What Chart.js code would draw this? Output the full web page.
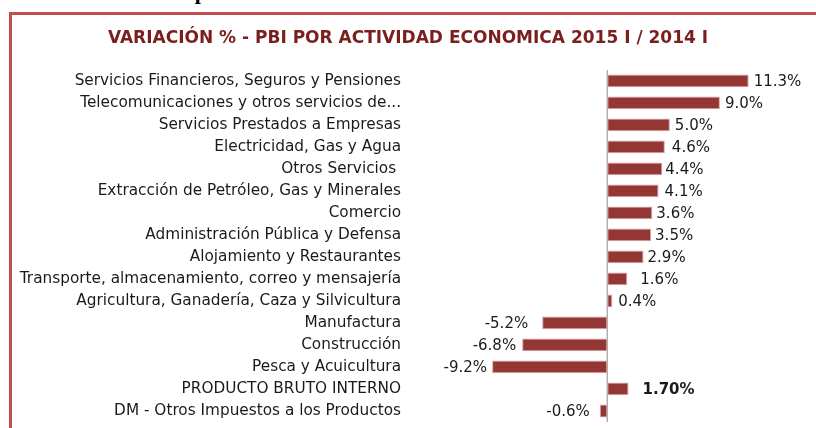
<!DOCTYPE html>
<html>
<head>
<meta charset="utf-8">
<script src="https://cdn.jsdelivr.net/npm/chart.js@4"></script>
<style>
  html, body { margin: 0; padding: 0; background: #fff; overflow: hidden; }
  body { width: 816px; height: 428px; position: relative; }
  .heading {
    position: absolute; left: 12px; top: -21px; margin: 0;
    font: bold 22px "Liberation Serif", serif; color: #000; white-space: nowrap;
    letter-spacing: 0.5px;
  }
  .frame {
    position: absolute; left: 9px; top: 12px; width: 900px; height: 500px;
    border-top: 3px solid #c0504d; border-left: 3px solid #c0504d;
  }
  #wrap { position: absolute; left: 0; top: 0; width: 816px; height: 428px; }
</style>
</head>
<body>
<p class="heading">Gráfico N° 1: PBI por actividad económica</p>
<div class="frame"></div>
<div id="wrap"><canvas id="pbiChart"></canvas></div>
<script>
// categorias (de arriba hacia abajo)
const sectors = [
  "Servicios Financieros, Seguros y Pensiones",
  "Telecomunicaciones y otros servicios de...",
  "Servicios Prestados a Empresas",
  "Electricidad, Gas y Agua",
  "Otros Servicios ",
  "Extracción de Petróleo, Gas y Minerales",
  "Comercio",
  "Administración Pública y Defensa",
  "Alojamiento y Restaurantes",
  "Transporte, almacenamiento, correo y mensajería",
  "Agricultura, Ganadería, Caza y Silvicultura",
  "Manufactura",
  "Construcción",
  "Pesca y Acuicultura",
  "PRODUCTO BRUTO INTERNO",
  "DM - Otros Impuestos a los Productos"
];
const variation = [11.3, 9.0, 5.0, 4.6, 4.4, 4.1, 3.6, 3.5, 2.9, 1.6, 0.4, -5.2, -6.8, -9.2, 1.70, -0.6];
const valueLabels = ["11.3%", "9.0%", "5.0%", "4.6%", "4.4%", "4.1%", "3.6%", "3.5%", "2.9%",
                     "1.6%", "0.4%", "-5.2%", "-6.8%", "-9.2%", "1.70%", "-0.6%"];
// separacion de cada etiqueta respecto a la barra (px), como en el original
const labelGap = [5, 5, 5, 7, 3, 6, 4, 4, 4, 13, 6, 14, 6, 5, 14, 10];
const totalIndex = 14;

const FONT = '"DejaVu Sans", "Open Sans", sans-serif';

// linea del cero y etiquetas de valor junto a cada barra
const valueLabelPlugin = {
  id: 'valueLabels',
  beforeDatasetsDraw(chart) {
    const { ctx, chartArea, scales } = chart;
    const x0 = scales.x.getPixelForValue(0);
    ctx.save();
    ctx.strokeStyle = '#a6a6a6';
    ctx.lineWidth = 1.3;
    ctx.beginPath();
    ctx.moveTo(x0, chartArea.top);
    ctx.lineTo(x0, chartArea.bottom);
    ctx.stroke();
    ctx.restore();
  },
  afterDatasetsDraw(chart) {
    const { ctx } = chart;
    const meta = chart.getDatasetMeta(0);
    ctx.save();
    ctx.fillStyle = '#1a1a1a';
    ctx.textBaseline = 'middle';
    meta.data.forEach((bar, i) => {
      const v = variation[i];
      ctx.font = (i === totalIndex ? 'bold ' : '') + '15px ' + FONT;
      if (v >= 0) {
        ctx.textAlign = 'left';
        ctx.fillText(valueLabels[i], bar.x + labelGap[i], bar.y + 1);
      } else {
        ctx.textAlign = 'right';
        ctx.fillText(valueLabels[i], bar.x - labelGap[i], bar.y + 1);
      }
    });
    ctx.restore();
  }
};

new Chart(document.getElementById('pbiChart'), {
  type: 'bar',
  data: {
    labels: sectors,
    datasets: [{
      data: variation,
      backgroundColor: '#943634',
      borderColor: '#d9a3a3',
      borderWidth: 1,
      borderSkipped: false,
      barPercentage: 0.58,
      categoryPercentage: 1.0
    }]
  },
  options: {
    indexAxis: 'y',
    responsive: true,
    maintainAspectRatio: false,
    animation: false,
    layout: { padding: { left: 0, right: 0, top: 28, bottom: 6 } },
    plugins: {
      legend: { display: false },
      tooltip: { enabled: false },
      title: {
        display: true,
        text: 'VARIACIÓN % - PBI POR ACTIVIDAD ECONOMICA 2015 I / 2014 I',
        color: '#7b1e1e',
        font: { family: FONT, size: 17, weight: 'bold' },
        padding: { top: 0, bottom: 21.5 }
      }
    },
    scales: {
      x: {
        display: false,
        min: -16,
        max: 15
      },
      y: {
        grid: { display: false, drawTicks: false },
        border: { display: false },
        ticks: {
          autoSkip: false,
          padding: 6,
          color: '#1a1a1a',
          font: { family: FONT, size: 15.3 }
        },
        afterFit(scale) {
          scale.width = 407;
          scale.paddingTop = 0;
          scale.paddingBottom = 0;
        }
      },
      // eje vacio a la derecha: solo reserva el margen para las etiquetas
      yRight: {
        type: 'category',
        position: 'right',
        grid: { display: false, drawTicks: false },
        border: { display: false },
        ticks: { display: false },
        afterFit(scale) {
          scale.width = 21;
          scale.paddingTop = 0;
          scale.paddingBottom = 0;
        }
      }
    }
  },
  plugins: [valueLabelPlugin]
});
</script>
</body>
</html>
